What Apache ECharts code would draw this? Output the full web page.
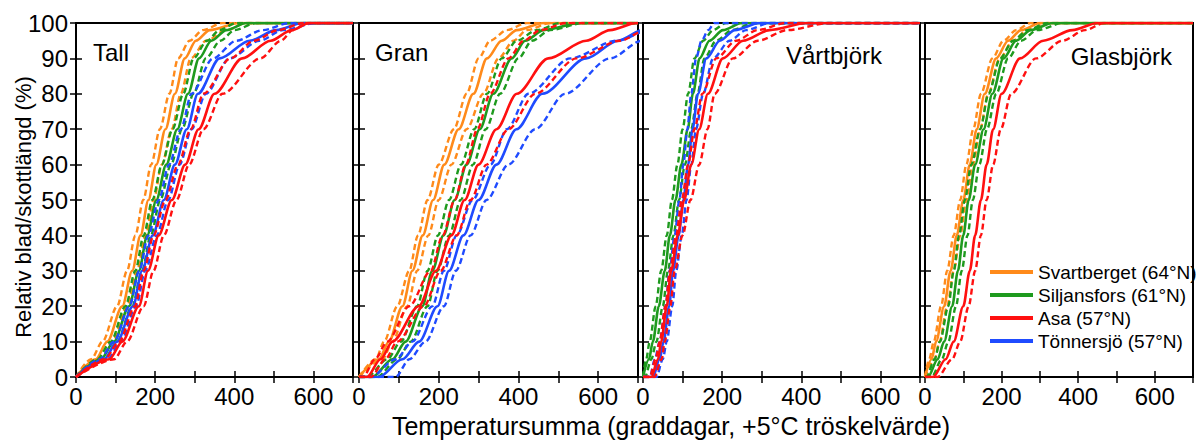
<!DOCTYPE html>
<html><head><meta charset="utf-8">
<script src="https://cdn.jsdelivr.net/npm/echarts@6/dist/echarts.min.js"></script>
<style>html,body{margin:0;padding:0;background:#fff}#c{width:1196px;height:441px}</style>
</head><body><div id="c"></div>
<script>
// Percent levels (y) at which temperature sums (x) are read
const LEVELS = [0, 5, 10, 20, 30, 40, 50, 60, 70, 80, 90, 95, 98, 100];
const PANELS = ['Tall', 'Gran', 'Vårtbjörk', 'Glasbjörk'];
const SITES = ['Svartberget (64°N)', 'Siljansfors (61°N)', 'Asa (57°N)', 'Tönnersjö (57°N)'];
const X_LABELS = [0, 200, 400, 600];
const Y_LABELS = [0, 10, 20, 30, 40, 50, 60, 70, 80, 90, 100];
const X_TITLE = 'Temperatursumma (graddagar, +5°C tröskelvärde)';
const Y_TITLE = 'Relativ blad/skottlängd (%)';

// Tall
const tallOrange   = [0, 50, 79, 117, 142, 163, 183, 203, 226, 250, 275, 303, 338, 413];
const tallOrangeLo = [0, 38, 67, 104, 129, 150, 170, 190, 212, 236, 258, 287, 321, 370];
const tallOrangeHi = [0, 63, 92, 129, 154, 176, 196, 217, 242, 265, 290, 329, 380, 430];
const tallGreen    = [0, 63, 96, 134, 159, 180, 203, 228, 256, 283, 311, 342, 380, 430];
const tallGreenLo  = [0, 54, 88, 125, 150, 171, 193, 217, 244, 271, 297, 331, 363, 405];
const tallGreenHi  = [0, 72, 104, 142, 167, 189, 213, 240, 268, 297, 328, 365, 401, 455];
const tallRed      = [0, 84, 117, 159, 182, 209, 242, 276, 310, 350, 420, 492, 545, 590];
const tallRedLo    = [0, 72, 109, 149, 171, 196, 226, 258, 290, 322, 390, 450, 510, 575];
const tallRedHi    = [0, 96, 129, 171, 196, 222, 254, 286, 322, 370, 466, 518, 548, 585];
const tallBlue     = [0, 71, 104, 144, 167, 194, 222, 250, 280, 308, 363, 439, 506, 573];
const tallBlueLo   = [0, 60, 96, 135, 160, 183, 209, 235, 265, 292, 346, 405, 472, 540];
const tallBlueHi   = [0, 80, 113, 152, 175, 204, 233, 262, 292, 328, 388, 464, 523, 607];
// Gran
const granOrange   = [0, 50, 75, 109, 134, 160, 186, 214, 250, 287, 321, 358, 396, 463];
const granOrangeLo = [0, 42, 63, 96, 126, 148, 172, 200, 238, 270, 300, 329, 371, 421];
const granOrangeHi = [0, 59, 84, 121, 146, 174, 200, 232, 270, 312, 350, 388, 421, 480];
const granGreen    = [33, 84, 117, 159, 184, 212, 240, 270, 303, 337, 383, 417, 463, 555];
const granGreenLo  = [20, 71, 105, 146, 172, 198, 226, 256, 289, 321, 358, 396, 446, 505];
const granGreenHi  = [45, 96, 130, 172, 197, 226, 255, 286, 318, 354, 400, 434, 480, 563];
const granRed      = [20, 54, 84, 150, 193, 232, 265, 300, 345, 396, 475, 570, 630, 697];
const granRedLo    = [10, 40, 71, 126, 180, 210, 240, 268, 297, 329, 375, 413, 455, 520];
const granRedHi    = [30, 66, 96, 163, 205, 245, 280, 320, 375, 442, 546, 655, 720, 780];
const granBlue     = [50, 109, 151, 197, 226, 262, 300, 345, 395, 460, 570, 650, 712, 780];
const granBlueLo   = [30, 92, 134, 184, 213, 245, 285, 330, 371, 425, 530, 647, 730, 780];
const granBlueHi   = [92, 126, 167, 213, 243, 280, 320, 375, 442, 517, 630, 710, 800, 860];
// Vårtbjörk
const vartGreen    = [0, 15, 25, 40, 55, 68, 82, 97, 113, 126, 143, 168, 202, 250];
const vartGreenLo  = [0, 8, 17, 32, 46, 60, 73, 87, 100, 114, 130, 152, 177, 210];
const vartGreenHi  = [5, 21, 34, 50, 63, 77, 91, 106, 122, 138, 155, 185, 225, 280];
const vartRed      = [21, 38, 46, 60, 71, 88, 104, 122, 142, 164, 202, 253, 320, 415];
const vartRedLo    = [17, 32, 42, 57, 68, 84, 98, 114, 130, 150, 185, 235, 290, 360];
const vartRedHi    = [29, 47, 55, 69, 80, 100, 120, 142, 163, 181, 227, 290, 365, 470];
const vartBlue     = [25, 42, 52, 66, 76, 90, 102, 114, 125, 139, 160, 194, 232, 295];
const vartBlueLo   = [17, 30, 42, 57, 67, 80, 92, 102, 112, 122, 134, 148, 165, 180];
const vartBlueHi   = [34, 50, 60, 74, 84, 98, 110, 122, 134, 152, 177, 219, 261, 320];
// Glasbjörk
const glasOrange   = [0, 17, 29, 50, 67, 83, 100, 117, 135, 156, 186, 217, 251, 301];
const glasOrangeLo = [0, 11, 23, 42, 58, 75, 92, 108, 126, 146, 176, 205, 238, 276];
const glasOrangeHi = [0, 25, 38, 58, 75, 92, 108, 125, 144, 165, 195, 230, 268, 320];
const glasGreen    = [8, 33, 50, 71, 86, 100, 114, 131, 153, 176, 205, 238, 276, 334];
const glasGreenLo  = [4, 25, 39, 61, 75, 89, 104, 121, 144, 166, 196, 230, 268, 318];
const glasGreenHi  = [17, 44, 61, 81, 96, 111, 125, 142, 162, 186, 217, 251, 293, 360];
const glasRed      = [21, 54, 75, 100, 117, 131, 146, 161, 178, 200, 248, 309, 385, 451];
const glasRedHi    = [33, 71, 92, 114, 131, 146, 161, 178, 198, 225, 290, 359, 418, 468];

const COLORS = ['#FF8A1A', '#1E9A1E', '#FF1010', '#1F4BFF'];
const FONT = '"Liberation Sans", Arial, sans-serif';

// [panel, site, solid, [dashed...]]
const LINES = [
  [0, 0, tallOrange, [tallOrangeLo, tallOrangeHi]],
  [0, 1, tallGreen, [tallGreenLo, tallGreenHi]],
  [0, 3, tallBlue, [tallBlueLo, tallBlueHi]],
  [0, 2, tallRed, [tallRedLo, tallRedHi]],
  [1, 0, granOrange, [granOrangeLo, granOrangeHi]],
  [1, 1, granGreen, [granGreenLo, granGreenHi]],
  [1, 3, granBlue, [granBlueLo, granBlueHi]],
  [1, 2, granRed, [granRedLo, granRedHi]],
  [2, 1, vartGreen, [vartGreenLo, vartGreenHi]],
  [2, 3, vartBlue, [vartBlueLo, vartBlueHi]],
  [2, 2, vartRed, [vartRedLo, vartRedHi]],
  [3, 0, glasOrange, [glasOrangeLo, glasOrangeHi]],
  [3, 1, glasGreen, [glasGreenLo, glasGreenHi]],
  [3, 2, glasRed, [glasRedHi]]
];

const XMAX = 700;
function toPoints(xs) {
  const pts = LEVELS.map((y, i) => [xs[i], y]);
  if (xs[0] > 0) pts.unshift([0, 0]);
  if (xs[xs.length - 1] < XMAX) pts.push([XMAX, 100]);
  return pts;
}

const GRID_LEFT = [76, 359, 643, 925];
const GRID_W = [277, 279, 277, 279];
const grids = [], xAxes = [], yAxes = [], series = [];
const tick = {inside: true, length: 6, lineStyle: {color: '#000', width: 1.5}};
GRID_LEFT.forEach((l, i) => {
  grids.push({left: l, top: 23, width: GRID_W[i], height: 354, show: true, borderColor: '#000', borderWidth: 2, backgroundColor: 'transparent'});
  const xb = {gridIndex: i, type: 'value', min: 0, max: XMAX, interval: 100,
    axisLine: {show: false}, splitLine: {show: false}, axisTick: tick,
    axisLabel: {formatter: v => X_LABELS.includes(v) ? String(v) : '', fontSize: 24, color: '#000', margin: 7, fontFamily: FONT}};
  xAxes.push(xb);
  xAxes.push(Object.assign({}, xb, {position: 'top', axisLabel: {show: false}}));
  const yl = {gridIndex: i, type: 'value', min: 0, max: 100, interval: 10,
    axisLine: {show: false}, splitLine: {show: false}, axisTick: tick,
    axisLabel: {show: i === 0, formatter: v => Y_LABELS.includes(v) ? String(v) : '', fontSize: 24, color: '#000', margin: 8, fontFamily: FONT}};
  yAxes.push(yl);
  yAxes.push(Object.assign({}, yl, {position: 'right', axisLabel: {show: false}}));
});

LINES.forEach(([p, s, solid, dashes]) => {
  const base = {type: 'line', xAxisIndex: 2 * p, yAxisIndex: 2 * p, showSymbol: false, symbol: 'none',
    smooth: 0.3, smoothMonotone: 'x', clip: true, silent: true};
  dashes.forEach((d, k) => {
    series.push(Object.assign({}, base, {name: SITES[s] + ' band ' + p + k, data: toPoints(d),
      itemStyle: {color: COLORS[s]}, lineStyle: {color: COLORS[s], width: 2.4, type: [6, 3.5]}}));
  });
  series.push(Object.assign({}, base, {name: SITES[s], data: toPoints(solid),
    itemStyle: {color: COLORS[s]}, lineStyle: {color: COLORS[s], width: 2.6}}));
});

const panelLabels = [
  {x: 93, y: 52, align: 'left'},
  {x: 375, y: 52, align: 'left'},
  {x: 882, y: 55, align: 'right'},
  {x: 1172, y: 56, align: 'right'}
];
const graphics = PANELS.map((t, i) => ({type: 'text', x: panelLabels[i].x, y: panelLabels[i].y, z: 100,
  style: {text: t, fontSize: 24, fontFamily: FONT, fill: '#000', align: panelLabels[i].align, verticalAlign: 'middle'}}));
graphics.push({type: 'text', x: 671, y: 426, z: 100,
  style: {text: X_TITLE, fontSize: 25, fontFamily: FONT, fill: '#000', align: 'center', verticalAlign: 'middle'}});
graphics.push({type: 'text', x: 23, y: 207, rotation: Math.PI / 2, z: 100,
  style: {text: Y_TITLE, fontSize: 22, fontFamily: FONT, fill: '#000', align: 'center', verticalAlign: 'middle'}});

const chart = echarts.init(document.getElementById('c'), null, {renderer: 'svg'});
chart.setOption({
  animation: false,
  backgroundColor: '#fff',
  grid: grids, xAxis: xAxes, yAxis: yAxes, series: series,
  legend: {left: 985, top: 257, orient: 'vertical', itemWidth: 43, itemHeight: 4, itemGap: 3, icon: 'rect',
    data: SITES, textStyle: {fontSize: 19, color: '#000', lineHeight: 20, fontFamily: FONT}, selectedMode: false},
  graphic: graphics
});
</script></body></html>
